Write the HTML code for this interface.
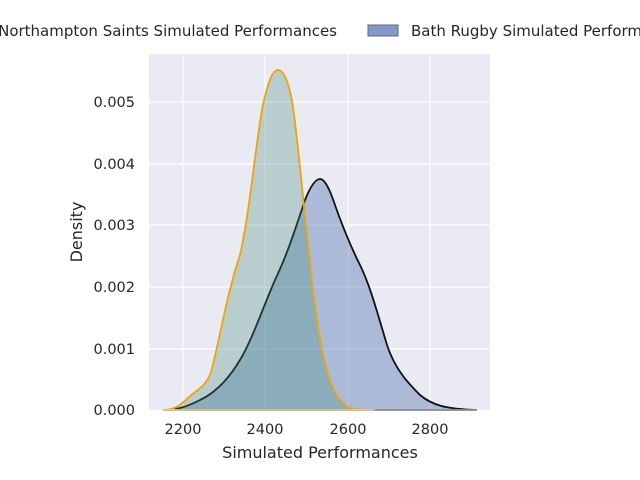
<!DOCTYPE html>
<html><head><style>body{margin:0;background:#fff}svg{display:block}</style></head><body>
<svg width="640" height="480" xmlns="http://www.w3.org/2000/svg" font-family="DejaVu Sans, Liberation Sans, sans-serif">
<rect x="149" y="54" width="341" height="356" fill="#eaeaf2"/>
<g stroke="#fff" stroke-width="1.2">
<line x1="183" y1="54" x2="183" y2="410"/><line x1="265" y1="54" x2="265" y2="410"/><line x1="348" y1="54" x2="348" y2="410"/><line x1="430" y1="54" x2="430" y2="410"/>
<line x1="149" y1="102" x2="490" y2="102"/><line x1="149" y1="164" x2="490" y2="164"/><line x1="149" y1="225" x2="490" y2="225"/><line x1="149" y1="287" x2="490" y2="287"/><line x1="149" y1="349" x2="490" y2="349"/>
</g>
<path d="M163,410 C180,410 190,405 200,400 C215,393 228,380 240,360 C252,340 262,310 275,280 C287,255 295,230 305,200 C311,185 316,179 320,179 C325,179 330,190 335,205 C342,225 350,245 360,265 C370,285 378,315 387,345 C395,370 410,385 420,395 C432,405 445,409 477,410 Z" fill="rgba(76,114,176,0.4)" stroke="#111" stroke-width="1.8"/>
<path d="M163,410 C175,410 180,405 188,398 C196,390 204,388 210,375 C218,350 225,300 240,255 C250,210 255,150 262,110 C267,85 272,70 278,70 C284,70 288,82 292,100 C298,140 302,190 308,245 C314,300 318,340 328,375 C334,395 342,405 352,409 C360,410 370,410 375,410 Z" fill="rgba(70,140,120,0.3)" stroke="#f0a30a" stroke-width="1.8"/>
<line x1="163" y1="410" x2="477" y2="410" stroke="#eaeaf2" stroke-width="1"/>
<g font-size="14.5" fill="#262626" text-anchor="middle">
<text x="183" y="434">2200</text><text x="265" y="434">2400</text><text x="348" y="434">2600</text><text x="430" y="434">2800</text>
</g>
<g font-size="14.5" fill="#262626" text-anchor="end">
<text x="135" y="415">0.000</text><text x="135" y="354">0.001</text><text x="135" y="292">0.002</text><text x="135" y="230">0.003</text><text x="135" y="169">0.004</text><text x="135" y="107">0.005</text>
</g>
<text x="320" y="458" font-size="16" fill="#262626" text-anchor="middle">Simulated Performances</text>
<text transform="translate(82,232) rotate(-90)" font-size="16" fill="#262626" text-anchor="middle">Density</text>
<text x="337" y="36" font-size="15" fill="#262626" text-anchor="end">Northampton Saints Simulated Performances</text>
<rect x="368" y="25" width="30" height="11" fill="#8099c8" stroke="#666" stroke-width="1"/>
<text x="411" y="36" font-size="15" fill="#262626">Bath Rugby Simulated Performances</text>
</svg>
</body></html>
